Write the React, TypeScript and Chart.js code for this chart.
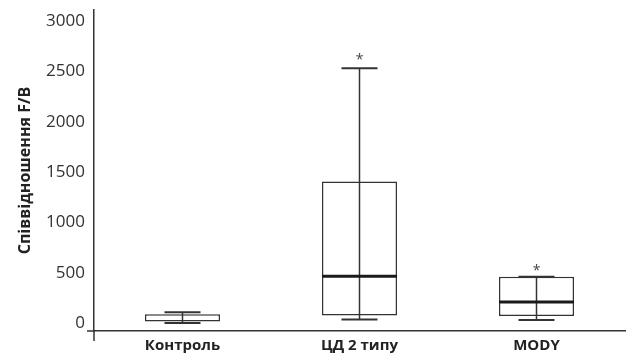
import React, { useEffect, useRef } from "react";
import { Chart, registerables } from "chart.js";

Chart.register(...registerables);

const categories = ["Контроль", "ЦД 2 типу", "MODY"];
const mins = [0, 35, 30];
const q1s = [15, 75, 70];
const medians: (number | null)[] = [null, 465, 210];
const q3s = [88, 1405, 460];
const maxs = [108, 2530, 460];
const outliers: (number | null)[] = [null, 2640, 548];
const yTicks = [0, 500, 1000, 1500, 2000, 2500, 3000];

const LINE = "#333333";
const FONT = "'Open Sans', 'Noto Sans', sans-serif";

const boxPlugin = {
  id: "boxWhiskers",
  afterDatasetsDraw(chart: any) {
    const ctx = chart.ctx;
    const ys = chart.scales.y;
    const meta = chart.getDatasetMeta(0);
    ctx.save();
    categories.forEach((_c, i) => {
      const bar = meta.data[i];
      if (!bar) return;
      const cx = bar.x;
      const bw = bar.width;
      const capW = bw * 0.48;
      ctx.strokeStyle = LINE;
      ctx.lineWidth = 1.5;
      ctx.beginPath();
      ctx.moveTo(cx, ys.getPixelForValue(mins[i]));
      ctx.lineTo(cx, ys.getPixelForValue(maxs[i]));
      ctx.stroke();
      ctx.lineWidth = 2;
      [mins[i], maxs[i]].forEach((v) => {
        const py = ys.getPixelForValue(v);
        ctx.beginPath();
        ctx.moveTo(cx - capW / 2, py);
        ctx.lineTo(cx + capW / 2, py);
        ctx.stroke();
      });
      const m = medians[i];
      if (m !== null) {
        ctx.strokeStyle = "#1a1a1a";
        ctx.lineWidth = 3;
        const py = ys.getPixelForValue(m);
        ctx.beginPath();
        ctx.moveTo(cx - bw / 2, py);
        ctx.lineTo(cx + bw / 2, py);
        ctx.stroke();
      }
      const o = outliers[i];
      if (o !== null) {
        ctx.fillStyle = "#444";
        ctx.font = `14px ${FONT}`;
        ctx.textAlign = "center";
        ctx.textBaseline = "middle";
        ctx.fillText("*", cx, ys.getPixelForValue(o) + 3);
      }
    });
    const area = chart.chartArea;
    ctx.strokeStyle = LINE;
    ctx.lineWidth = 1.5;
    ctx.beginPath();
    ctx.moveTo(area.left, area.bottom);
    ctx.lineTo(area.left, area.bottom + 10);
    ctx.moveTo(area.left - 7, area.bottom);
    ctx.lineTo(area.left, area.bottom);
    ctx.stroke();
    ctx.restore();
  },
};

export default function App() {
  const ref = useRef<HTMLCanvasElement | null>(null);
  useEffect(() => {
    if (!ref.current) return;
    const chart = new Chart(ref.current, {
      type: "bar",
      data: {
        labels: categories,
        datasets: [
          {
            data: categories.map((_c, i) => [q1s[i], q3s[i]]) as any,
            backgroundColor: "#ffffff",
            borderColor: LINE,
            borderWidth: 1.5,
            borderSkipped: false,
            barPercentage: 0.424,
            categoryPercentage: 1,
          },
        ],
      },
      options: {
        responsive: false,
        animation: false,
        devicePixelRatio: 1,
        layout: { padding: { top: 10, right: 9, left: 0, bottom: 0 } },
        plugins: { legend: { display: false }, tooltip: { enabled: false } },
        scales: {
          x: {
            grid: { display: false, drawTicks: false },
            border: { display: true, color: LINE, width: 1.5 },
            ticks: {
              color: "#222",
              font: { family: FONT, size: 15, weight: "bold" },
              padding: 6,
            },
            afterFit: (s: any) => {
              s.height = 29;
              s.paddingLeft = 0;
              s.paddingRight = 0;
            },
          },
          y: {
            min: -79,
            max: 3109,
            afterBuildTicks: (s: any) => {
              s.ticks = yTicks.map((v) => ({ value: v }));
            },
            grid: { display: false, drawTicks: false },
            border: { display: true, color: LINE, width: 1.5 },
            ticks: {
              color: "#333",
              font: { family: FONT, size: 17 },
              padding: 9,
              callback: (v: any) => String(v),
            },
            title: {
              display: true,
              text: "Співвідношення F/B",
              color: "#222",
              font: { family: FONT, size: 16, weight: "bold" },
              padding: { top: 16, bottom: 4 },
            },
            afterFit: (s: any) => {
              s.width = 94;
              s.paddingTop = 0;
              s.paddingBottom = 0;
            },
          },
        },
      },
      plugins: [boxPlugin],
    });
    return () => chart.destroy();
  }, []);
  return (
    <div style={{ position: "fixed", left: 0, top: 0, width: 634, height: 360, background: "#fff" }}>
      <canvas ref={ref} width={634} height={360} />
    </div>
  );
}
